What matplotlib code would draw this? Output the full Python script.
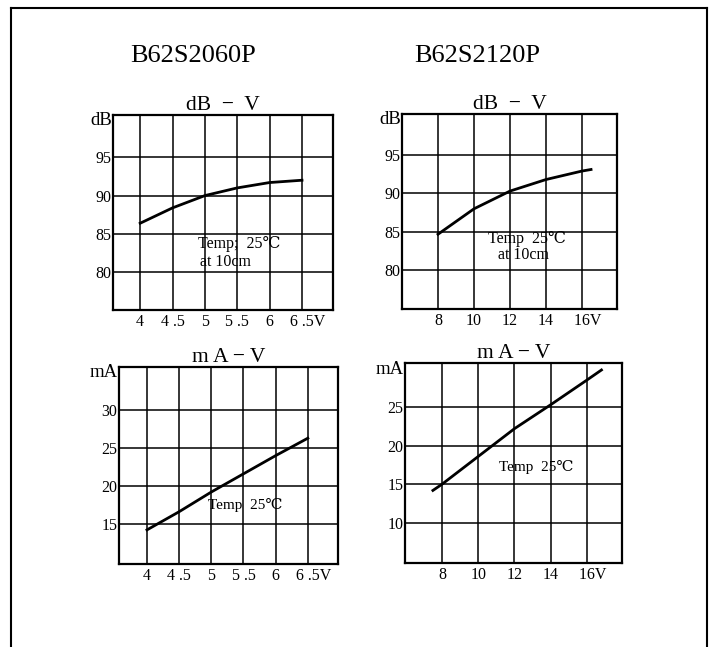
import matplotlib
matplotlib.use("Agg")
import matplotlib.pyplot as plt
from matplotlib.lines import Line2D

plt.rcParams['font.family'] = ['Liberation Serif', 'DejaVu Serif']

# B62S2060P
v_small = [4, 4.5, 5, 5.5, 6, 6.5]
db_small = [86.4, 88.4, 90.0, 91.0, 91.7, 92.0]
ma_small = [14.2, 16.6, 19.2, 21.6, 24.0, 26.3]
# B62S2120P
v_big = [8, 10, 12, 14, 16, 16.5]
db_big = [84.7, 88.0, 90.3, 91.8, 92.9, 93.1]
v_big_ma = [7.5, 8, 10, 12, 14, 16, 16.8]
ma_big = [14.2, 15.0, 18.6, 22.2, 25.3, 28.5, 29.8]

xt_small = [4, 4.5, 5, 5.5, 6, 6.5]
xl_small = ['4', '4 .5', '5', '5 .5', '6', '   6 .5V']
xt_big = [8, 10, 12, 14, 16]
xl_big = ['8', '10', '12', '14', '   16V']
yt_db = [80, 85, 90, 95]
yt_ma_small = [15, 20, 25, 30]
yt_ma_big = [10, 15, 20, 25]

fig = plt.figure(figsize=(7.13, 6.47), dpi=100)

# outer frame (left, top, right)
fx0, fx1, fy = 10.5 / 713, 707 / 713, 1 - 7.5 / 647
for xs, ys in [([fx0, fx0], [0, fy]), ([fx0, fx1], [fy, fy]), ([fx1, fx1], [fy, 0])]:
    fig.add_artist(Line2D(xs, ys, transform=fig.transFigure, color='black', lw=1.5))

fig.text(193 / 713, 1 - 56 / 647, 'B62S2060P', ha='center', va='center', fontsize=19)
fig.text(477 / 713, 1 - 56 / 647, 'B62S2120P', ha='center', va='center', fontsize=19)


def style(ax, xt, xl, yt, ylab, title):
    ax.set_xticks(xt)
    ax.set_xticklabels(xl)
    ax.set_yticks(yt)
    ax.tick_params(length=0, labelsize=11.5, pad=3)
    ax.tick_params(axis='y', pad=1)
    ax.grid(True, color='black', lw=1.1)
    for s in ax.spines.values():
        s.set_linewidth(1.6)
    ax.set_title(title, fontsize=15.5, pad=3)
    ax.text(-0.005, 0.97, ylab, transform=ax.transAxes, ha='right', va='center', fontsize=13.5)


ax1 = fig.add_axes([0.1585, 0.5209, 0.3086, 0.3014])
ax1.plot(v_small, db_small, color='black', lw=2)
ax1.set_xlim(3.58, 6.98)
ax1.set_ylim(75.1, 100.5)
style(ax1, xt_small, xl_small, yt_db, 'dB', 'dB  −  V')
ax1.text(4.9, 83.7, 'Temp;  25℃', ha='left', va='center', fontsize=11.5)
ax1.text(4.92, 81.3, 'at 10cm', ha='left', va='center', fontsize=11.5)

ax2 = fig.add_axes([0.5638, 0.5224, 0.3015, 0.3014])
ax2.plot(v_big, db_big, color='black', lw=2)
ax2.set_xlim(6.0, 17.94)
ax2.set_ylim(75.0, 100.3)
style(ax2, xt_big, xl_big, yt_db, 'dB', 'dB  −  V')
ax2.text(12.95, 84.1, 'Temp  25℃', ha='center', va='center', fontsize=11.5)
ax2.text(12.75, 82.0, 'at 10cm', ha='center', va='center', fontsize=11.5)

ax3 = fig.add_axes([0.1669, 0.1283, 0.3072, 0.3045])
ax3.plot(v_small, ma_small, color='black', lw=2)
ax3.set_xlim(3.565, 6.97)
ax3.set_ylim(9.7, 35.7)
style(ax3, xt_small, xl_small, yt_ma_small, 'mA', 'm A − V')
ax3.text(4.95, 17.5, 'Temp  25℃', ha='left', va='center', fontsize=11)

ax4 = fig.add_axes([0.568, 0.1298, 0.3043, 0.3091])
ax4.plot(v_big_ma, ma_big, color='black', lw=2)
ax4.set_xlim(5.96, 17.93)
ax4.set_ylim(4.8, 30.7)
style(ax4, xt_big, xl_big, yt_ma_big, 'mA', 'm A − V')
ax4.text(13.2, 17.3, 'Temp  25℃', ha='center', va='center', fontsize=11)

fig.savefig('out.png', dpi=100)
